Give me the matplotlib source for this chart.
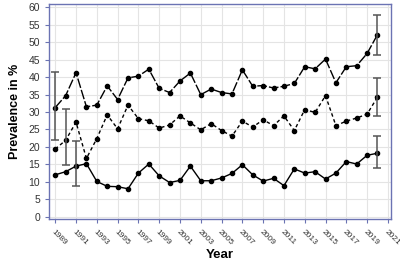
import matplotlib
matplotlib.use("Agg")
import matplotlib.pyplot as plt
import numpy as np

plt.rcParams['font.family'] = ['Liberation Sans', 'DejaVu Sans']

years = list(range(1989, 2021))
top = [31.3, 34.7, 41.3, 31.5, 32.0, 37.5, 33.6, 39.8, 40.3, 42.3, 36.8, 35.6, 38.9, 41.2, 35.0, 36.6,
       35.6, 35.2, 42.1, 37.4, 37.6, 36.9, 37.4, 38.2, 43.0, 42.4, 45.2, 38.4, 43.0, 43.3, 46.8, 52.2]
mid = [19.4, 21.9, 27.1, 16.7, 22.4, 29.2, 25.2, 32.0, 28.1, 27.5, 25.4, 26.3, 28.9, 26.9, 24.9, 26.7,
       24.7, 23.1, 27.4, 25.7, 27.8, 26.1, 28.9, 24.7, 30.7, 29.9, 34.7, 26.1, 27.4, 28.3, 29.4, 34.3]
low = [12.0, 12.9, 14.5, 15.2, 10.1, 8.7, 8.6, 8.0, 12.5, 15.1, 11.7, 9.8, 10.4, 14.5, 10.3, 10.3,
       11.1, 12.4, 14.9, 12.0, 10.2, 11.0, 8.9, 13.7, 12.5, 12.9, 10.8, 12.5, 15.8, 15.1, 17.6, 18.2]

# confidence intervals: (year, lower, upper)
ci_top = [(1989, 22.0, 41.5), (2020, 46.5, 57.9)]
ci_mid = [(1990, 14.7, 30.9), (2020, 28.8, 39.8)]
ci_low = [(1991, 8.9, 21.7), (2020, 14.0, 23.1)]

xticks = list(range(1989, 2022, 2))
yticks = list(range(0, 61, 5))

blue = '#6b73b3'

fig = plt.figure(figsize=(4.0, 2.64), dpi=100)
ax = fig.add_axes([0.1225, 0.17, 0.855, 0.815])

ax.grid(True, color='#e4e4e4', lw=0.8)
ax.set_axisbelow(True)

style = dict(color='black', lw=1.0, marker='o', ms=3)
ax.plot(years, top, linestyle=(0, (7, 1.5)), **style)
ax.plot(years, mid, linestyle=(0, (2.5, 2)), **style)
ax.plot(years, low, linestyle='-', **style)

for ci, vals in [(ci_top, top), (ci_mid, mid), (ci_low, low)]:
    for yr, lo, hi in ci:
        v = vals[years.index(yr)]
        ax.errorbar([yr], [v], yerr=[[v - lo], [hi - v]], fmt='none',
                    ecolor='#555555', elinewidth=1.1, capsize=3, capthick=1.1)

ax.set_xlim(1988.4, 2021.3)
ax.set_ylim(-0.7, 61)
ax.set_xticks(xticks)
ax.set_yticks(yticks)
ax.set_xticklabels([str(x) for x in xticks], rotation=-45, ha='left',
                   rotation_mode='anchor', fontsize=6.0, color='#333333')
ax.tick_params(axis='y', labelsize=7.5)
ax.tick_params(colors=blue, length=3, width=0.8, direction='out')
ax.tick_params(axis='both', labelcolor='#333333')
for lbl in ax.get_xticklabels():
    lbl.set_x(lbl.get_position()[0])

for s in ax.spines.values():
    s.set_color(blue)
    s.set_linewidth(1.0)

ax.set_ylabel('Prevalence in %', fontsize=9, fontweight='bold', labelpad=5)
ax.set_xlabel('Year', fontsize=9.5, fontweight='bold', labelpad=2)

fig.savefig('out.png', dpi=100)
